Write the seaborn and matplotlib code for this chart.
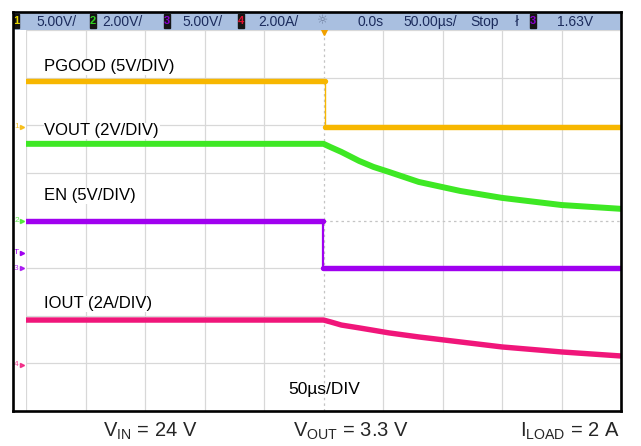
import numpy as np
import pandas as pd
import matplotlib
matplotlib.use("Agg")
import matplotlib.pyplot as plt
import seaborn as sns
from matplotlib.patches import Rectangle

# scope setup
time_per_div_us = 50
n_hdiv, n_vdiv = 10, 8

channels = ["PGOOD", "VOUT", "EN", "IOUT"]
ch_numbers = ["1", "2", "3", "4"]
ch_scale = [5.0, 2.0, 5.0, 2.0]            # V/div or A/div
ch_offset_div = [1.97, 0.0, -1.0, -3.03]   # ground marker position
ch_colors = ["#f7b700", "#3ee824", "#a000f0", "#f0167a"]
ch_labels = ["PGOOD (5V/DIV)", "VOUT (2V/DIV)", "EN (5V/DIV)", "IOUT (2A/DIV)"]
ch_scale_text = ["5.00V/", "2.00V/", "5.00V/", "2.00A/"]
box_colors = ["#e8d800", "#30d020", "#8a00d0", "#e01030"]

# step signals
pgood_high_v, pgood_low_v, pgood_edge_us = 4.8, 0.0, 1.5
en_high_v, en_low_v, en_edge_us = 5.0, 0.0, -0.5

# decaying signals after the EN falling edge
decay_t_us = [0, 6, 15, 30, 42, 55, 80, 115, 150, 200, 250]
vout_v = [3.22, 3.08, 2.88, 2.50, 2.25, 2.04, 1.62, 1.24, 0.95, 0.65, 0.49]
iout_a = [1.88, 1.80, 1.67, 1.55, 1.45, 1.34, 1.17, 0.96, 0.75, 0.54, 0.37]

trigger_time_us = 0.0
trigger_level_v = 1.63
t_start, t_end = -250, 250

sns.set_style("white")
plt.rcParams["font.family"] = ["Liberation Sans", "DejaVu Sans"]
plt.rcParams["mathtext.default"] = "regular"
narrow = ["Liberation Sans Narrow", "Liberation Sans", "DejaVu Sans"]

W, H = 641, 446
fig = plt.figure(figsize=(W / 100, H / 100), dpi=100)


def px(x0, y0, x1, y1):
    return [x0 / W, 1 - y1 / H, (x1 - x0) / W, (y1 - y0) / H]


def to_div(ch, values):
    return ch_offset_div[ch] + np.asarray(values) / ch_scale[ch]


# main grid area
ax = fig.add_axes(px(26, 30, 621, 411))
ax.set_xlim(t_start, t_end)
ax.set_ylim(-n_vdiv / 2, n_vdiv / 2)
xt = np.arange(t_start, t_end + 1, time_per_div_us)
yt = np.arange(-n_vdiv / 2, n_vdiv / 2 + 1, 1)
for x in xt:
    if x == 0:
        ax.axvline(x, color="#c4c4c4", lw=0.9, dashes=(2, 2.5), zorder=0)
    else:
        ax.axvline(x, color="#d8d8d8", lw=0.9, zorder=0)
for y in yt:
    if y == 0:
        ax.axhline(y, color="#c4c4c4", lw=0.9, dashes=(2, 2.5), zorder=0)
    else:
        ax.axhline(y, color="#d8d8d8", lw=0.9, zorder=0)
ax.set_xticks([])
ax.set_yticks([])
for s in ax.spines.values():
    s.set_visible(False)

lw = 3.9


def step_frame(ch, high, low, edge):
    return pd.DataFrame({
        "t": [t_start, edge, edge, t_end],
        "div": to_div(ch, [high, high, low, low]),
        "seg": [0, 0, 1, 1],
    })


# PGOOD
df = step_frame(0, pgood_high_v, pgood_low_v, pgood_edge_us)
sns.lineplot(data=df, x="t", y="div", units="seg", estimator=None, sort=False,
             color=ch_colors[0], lw=lw, ax=ax)
ax.plot([pgood_edge_us] * 2, to_div(0, [pgood_high_v, pgood_low_v]),
        color=ch_colors[0], lw=1.0)

# VOUT
df = pd.DataFrame({"t": [t_start] + decay_t_us,
                   "div": to_div(1, [vout_v[0]] + vout_v)})
sns.lineplot(data=df, x="t", y="div", estimator=None, sort=False,
             color=ch_colors[1], lw=lw + 0.4, ax=ax, solid_joinstyle="round")

# EN
df = step_frame(2, en_high_v, en_low_v, en_edge_us)
sns.lineplot(data=df, x="t", y="div", units="seg", estimator=None, sort=False,
             color=ch_colors[2], lw=lw, ax=ax)
ax.plot([en_edge_us] * 2, to_div(2, [en_high_v, en_low_v]),
        color=ch_colors[2], lw=1.6)

# IOUT
df = pd.DataFrame({"t": [t_start] + decay_t_us,
                   "div": to_div(3, [iout_a[0]] + iout_a)})
sns.lineplot(data=df, x="t", y="div", estimator=None, sort=False,
             color=ch_colors[3], lw=lw, ax=ax, solid_joinstyle="round")

# channel labels
label_y = [3.23, 1.88, 0.52, -1.75]
for lab, y in zip(ch_labels, label_y):
    ax.text(-234.5, y, lab, fontsize=12, va="center", ha="left", color="black",
            bbox=dict(facecolor="white", edgecolor="none", pad=0.5), zorder=5)
ax.text(1, -3.55, "50µs/DIV", fontsize=12.5, ha="center", va="center", color="black")

# trigger position marker at top
ax.plot(trigger_time_us, n_vdiv / 2 - 0.04, marker="v", color="#f0a000", ms=4.5,
        clip_on=False, zorder=6)

# channel ground markers in the left strip
ytr = ax.get_yaxis_transform()
for i in range(4):
    y = ch_offset_div[i]
    ax.text(-0.016, y, ch_numbers[i], transform=ytr, fontsize=6, color=ch_colors[i],
            ha="center", va="center", clip_on=False, alpha=0.8)
    ax.plot(-0.006, y, transform=ytr, marker=">", ms=3, color=ch_colors[i],
            clip_on=False, alpha=0.8)
y_trig = to_div(2, trigger_level_v)
ax.text(-0.016, y_trig, "T", transform=ytr, fontsize=6, color=ch_colors[2],
        ha="center", va="center", clip_on=False)
ax.plot(-0.006, y_trig, transform=ytr, marker=">", ms=3, color=ch_colors[2],
        clip_on=False)

# status bar
bar = fig.add_axes(px(13, 12, 621, 30))
bar.set_facecolor("#a9bfe0")
bar.set_xlim(13, 621)
bar.set_ylim(0, 1)
bar.set_xticks([])
bar.set_yticks([])
for s in bar.spines.values():
    s.set_visible(False)
txt_c = "#1b2b5c"
box_x = [13, 90, 164, 238]
txt_x = [36, 102, 182, 258]
for i in range(4):
    bar.add_patch(Rectangle((box_x[i], 0.1), 6, 0.8, color="#151515"))
    bar.text(box_x[i] + 3, 0.5, ch_numbers[i], fontsize=8, color=box_colors[i],
             ha="center", va="center", fontweight="bold")
    bar.text(txt_x[i], 0.45, ch_scale_text[i], fontsize=10, color=txt_c,
             ha="left", va="center", family=narrow)
bar.text(323, 0.5, "☼", fontsize=9, color="#6a7a9a", ha="center", va="center",
         family=["DejaVu Sans"])
bar.text(358, 0.45, "0.0s", fontsize=10, color=txt_c, ha="left", va="center", family=narrow)
bar.text(403, 0.45, "50.00µs/", fontsize=10, color=txt_c, ha="left", va="center",
         family=narrow)
bar.text(470, 0.45, "Stop", fontsize=10, color=txt_c, ha="left", va="center", family=narrow)
bar.text(517, 0.45, "ł", fontsize=10, color=txt_c, ha="center", va="center",
         family=["DejaVu Sans"])
bar.add_patch(Rectangle((530, 0.1), 6, 0.8, color="#151515"))
bar.text(533, 0.5, "3", fontsize=8, color=box_colors[2], ha="center", va="center",
         fontweight="bold")
bar.text(557, 0.45, f"{trigger_level_v:.2f}V", fontsize=10, color=txt_c, ha="left",
         va="center", family=narrow)

# outer frame
frame = fig.add_axes(px(13, 12, 621, 411))
frame.patch.set_alpha(0)
frame.set_xticks([])
frame.set_yticks([])
for s in frame.spines.values():
    s.set_linewidth(1.9)
    s.set_color("black")

# test conditions
fig.text(103 / W, 1 - 431 / H, r"V$_{IN}$ = 24 V", fontsize=14.5, ha="left", va="center")
fig.text(293 / W, 1 - 431 / H, r"V$_{OUT}$ = 3.3 V", fontsize=14.5, ha="left", va="center")
fig.text(620 / W, 1 - 431 / H, r"I$_{LOAD}$ = 2 A", fontsize=14.5, ha="right", va="center")

fig.savefig("out.png", dpi=100)
